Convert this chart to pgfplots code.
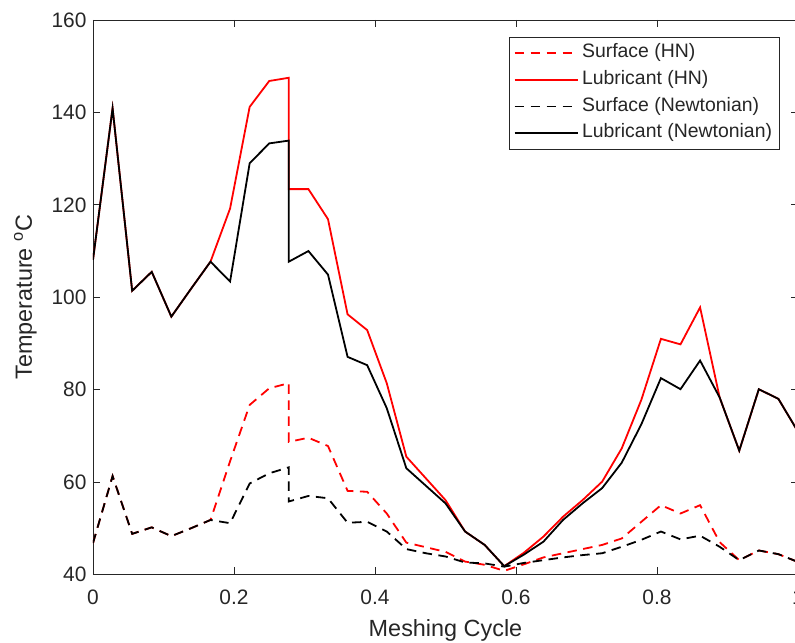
\documentclass[border=0pt]{standalone}
\usepackage{fontspec}
\setmainfont{Liberation Sans}
\usepackage{pgfplots}
\usepackage{pgfplotstable}
\pgfplotsset{compat=1.18}
\definecolor{axgray}{RGB}{38,38,38}
\definecolor{mred}{RGB}{255,0,0}

\pgfplotstableread{
x        lubN   lubHN  surfN  surfHN
0        108.1  108.1  46.8   46.8
0.02778  140.9  140.9  61.3   61.3
0.05556  101.4  101.4  48.8   48.8
0.08333  105.5  105.5  50.2   50.2
0.11111  95.8   95.8   48.3   48.3
0.13889  101.8  101.8  50.0   50.0
0.16667  107.7  107.7  51.8   51.8
0.19444  103.4  119.2  51.1   64.5
0.22222  129.0  141.2  59.7   76.7
0.25     133.3  146.8  61.9   80.3
0.27778  133.9  147.5  63.2   81.4
0.27778  107.7  123.4  55.8   68.7
0.30556  110.0  123.4  57.0   69.6
0.33333  104.9  116.9  56.5   67.8
0.36111  87.1   96.3   51.2   58.1
0.38889  85.3   92.9   51.4   57.9
0.41667  76.0   81.4   49.3   53.2
0.44444  63.0   65.5   45.5   46.9
0.47222  59.2   60.8   44.6   45.9
0.5      55.4   56.1   43.9   44.9
0.52778  49.3   49.3   42.6   42.8
0.55556  46.4   46.4   42.4   42.1
0.58333  41.8   41.8   41.7   40.8
0.61111  44.3   44.7   42.5   42.2
0.63889  47.1   48.2   43.1   43.7
0.66667  51.8   52.5   43.7   44.6
0.69444  55.4   56.1   44.2   45.5
0.72222  58.7   60.1   44.6   46.4
0.75     64.2   67.3   46.0   47.8
0.77778  72.5   77.8   47.5   51.4
0.80556  82.5   91.0   49.3   55.0
0.83333  80.1   89.8   47.6   53.2
0.86111  86.3   97.8   48.4   55.0
0.88889  78.3   78.3   46.0   47.0
0.91667  66.8   66.8   43.1   43.1
0.94444  80.1   80.1   45.2   45.2
0.97222  78.0   78.0   44.4   44.4
1        70.9   70.9   42.7   42.7
}\datatable

\begin{document}
\begin{tikzpicture}
\begin{axis}[
  scale only axis,
  width=705bp, height=554.5bp,
  xmin=0, xmax=1, ymin=40, ymax=160,
  xtick={0,0.2,0.4,0.6,0.8,1},
  ytick={40,60,80,100,120,140,160},
  tick align=inside,
  major tick length=7bp,
  axis line style={axgray, line width=0.8bp},
  every tick/.style={axgray, line width=0.8bp},
  tick label style={font=\fontsize{21}{25}\selectfont, text=axgray},
  xticklabel style={yshift=-12bp},
  yticklabel style={xshift=-3bp},
  /pgf/number format/assume math mode=true,
  xlabel={Meshing Cycle},
  ylabel={Temperature \textsuperscript{o}C},
  label style={font=\fontsize{23.5}{28}\selectfont, text=axgray},
  xlabel style={yshift=-8bp},
  ylabel shift=8bp,
  legend style={at={(1,1)}, anchor=north east, xshift=-18bp, yshift=-17bp,
    draw=axgray, line width=0.8bp, font=\fontsize{19.5}{23}\selectfont, text=axgray,
    inner xsep=4bp, inner ysep=4.5bp, row sep=4.2bp,
    nodes={text height=14bp, text depth=4.5bp, inner ysep=2bp, inner xsep=3.5bp}},
  legend cell align=left,
  legend image code/.code={\draw[#1] (0bp,0bp) -- (63bp,0bp);},
]
\addplot[mred, line width=1.8bp, dash pattern=on 9.5bp off 6.5bp] table[x=x,y=surfHN] {\datatable};
\addlegendentry{Surface (HN)}
\addplot[mred, line width=1.8bp] table[x=x,y=lubHN] {\datatable};
\addlegendentry{Lubricant (HN)}
\addplot[black, line width=1.8bp, dash pattern=on 9.5bp off 6.5bp] table[x=x,y=surfN] {\datatable};
\addlegendentry{Surface (Newtonian)}
\addplot[black, line width=1.8bp] table[x=x,y=lubN] {\datatable};
\addlegendentry{Lubricant (Newtonian)}
\end{axis}
\pgfresetboundingbox
\path ([xshift=-93bp,yshift=-68.5bp]current axis.south west) rectangle ([xshift=-3bp,yshift=20bp]current axis.north east);
\end{tikzpicture}
\end{document}
